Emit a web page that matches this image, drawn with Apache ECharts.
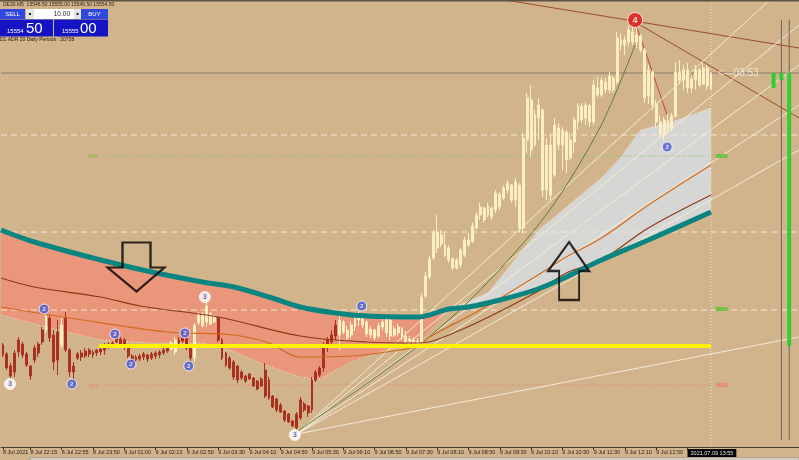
<!DOCTYPE html>
<html>
<head>
<meta charset="utf-8">
<title>DE30.M5</title>
<script src="https://cdn.jsdelivr.net/npm/echarts@6/dist/echarts.min.js"></script>
<style>
  html, body { margin: 0; padding: 0; background: #D2B48C; }
  #chart { width: 799px; height: 460px; }
</style>
</head>
<body>
<div id="chart"></div>
<script>
// M5 bars: [open, close, low, high]
const candles = [
  [15418.5, 15413.5, 15412.5, 15419.5], [15414, 15407, 15406, 15415], [15408, 15403, 15401, 15409.5],
  [15405, 15414.5, 15402.5, 15416], [15415, 15421, 15412.5, 15422.5], [15419, 15413.5, 15412, 15420],
  [15414, 15408.5, 15407.5, 15415], [15408, 15403, 15401, 15408.5], [15411, 15417, 15409.5, 15418.5],
  [15414.5, 15419, 15412.5, 15420], [15420, 15426, 15418.5, 15427.5], [15426, 15433, 15424.5, 15435],
  [15432, 15422, 15420, 15433.5], [15423.5, 15410, 15406, 15426], [15425, 15411, 15403.5, 15431],
  [15418.5, 15428.5, 15417, 15432], [15432, 15416, 15415, 15435], [15416, 15405, 15402.5, 15417],
  [15408, 15405, 15401, 15410], [15412, 15414, 15411, 15415], [15412.5, 15414.5, 15410.5, 15416],
  [15413, 15415.5, 15412, 15417], [15414, 15416, 15412.5, 15417], [15413.5, 15415, 15412, 15416],
  [15414.5, 15416, 15413, 15416.5], [15415, 15416.5, 15413.5, 15417.5], [15416, 15418, 15413.5, 15419.5],
  [15417.5, 15419, 15416.5, 15420], [15418, 15419.5, 15417, 15420.5], [15420, 15422, 15419.5, 15423.5],
  [15421.5, 15418.5, 15417.5, 15422.5], [15421, 15417.5, 15416, 15422], [15417.5, 15413, 15412, 15418.5],
  [15413, 15411, 15410, 15414], [15411, 15412.5, 15410, 15413.5], [15411.5, 15413, 15410.5, 15414],
  [15412.5, 15414, 15411, 15415], [15413.5, 15411.5, 15410, 15414], [15412, 15414, 15411, 15415],
  [15413, 15414.5, 15411.5, 15415.5], [15413.5, 15415, 15412, 15416], [15414.5, 15416, 15413.5, 15417.5],
  [15415.5, 15417, 15414.5, 15418.5], [15416.5, 15419.5, 15416, 15420.5], [15415, 15421, 15413.5, 15422.5],
  [15419.5, 15421, 15418.5, 15422.5], [15420.5, 15422, 15419.5, 15423], [15422, 15417, 15416, 15423],
  [15417.5, 15412, 15410, 15418.5], [15412, 15428.5, 15410, 15429.5], [15429.5, 15434, 15428.5, 15435],
  [15428, 15434, 15427, 15435], [15430, 15438, 15427.5, 15441], [15429, 15434, 15428.5, 15435],
  [15430, 15433, 15429.5, 15433.5], [15432, 15421, 15420, 15433], [15421, 15412, 15411, 15422],
  [15414.5, 15408.5, 15407.5, 15415], [15412, 15407, 15406, 15413], [15410, 15402.5, 15401, 15411],
  [15408, 15401, 15399.5, 15408.5], [15402, 15405, 15401, 15406], [15403, 15400.5, 15399.5, 15403.5],
  [15401.5, 15404, 15401, 15404.5], [15402, 15398, 15397.5, 15402.5], [15400.5, 15396.5, 15396, 15401],
  [15398, 15401.5, 15397.5, 15402.5], [15406, 15393, 15392, 15409.5], [15401, 15392, 15391, 15402.5],
  [15393, 15387.5, 15387, 15393.5], [15391.5, 15386, 15385, 15392], [15388.5, 15385, 15384.5, 15389.5],
  [15385.5, 15381, 15380, 15386], [15384, 15380, 15379.5, 15384.5], [15380.5, 15378, 15377.5, 15381],
  [15384, 15377, 15375.5, 15385], [15382, 15391, 15381, 15392.5], [15389, 15386, 15385, 15390],
  [15384.5, 15388, 15382.5, 15388.5], [15386, 15401, 15384.5, 15402.5], [15401, 15405, 15400, 15406],
  [15403.5, 15407, 15402.5, 15408], [15407, 15418.5, 15405, 15420], [15417, 15421, 15415, 15422.5],
  [15420, 15423.5, 15418.5, 15426], [15423, 15428.5, 15421, 15431], [15423.5, 15431, 15416, 15436],
  [15430, 15425, 15424, 15431], [15422, 15426, 15420.5, 15428], [15423.5, 15428.5, 15422, 15430.5],
  [15427.5, 15432, 15425.5, 15433], [15431, 15434, 15428, 15435.5], [15433, 15428.5, 15427, 15433.5],
  [15430, 15424, 15422.5, 15431], [15423.5, 15426.5, 15422, 15428], [15426, 15422, 15421, 15426.5],
  [15423, 15428, 15422, 15429.5], [15427.5, 15430, 15426, 15432], [15424.5, 15432, 15422.5, 15434],
  [15431, 15423, 15421, 15432], [15423.5, 15426.5, 15422.5, 15428], [15424.5, 15427.5, 15423, 15429],
  [15427, 15422, 15421, 15427.5], [15423, 15420, 15419, 15425.5], [15420.5, 15421.5, 15419, 15423],
  [15421, 15419, 15418, 15422.5], [15419, 15420.5, 15417.5, 15422], [15418.5, 15442.5, 15417, 15444.5],
  [15443, 15453, 15442, 15455], [15452.5, 15461.5, 15451.5, 15463], [15462, 15474.5, 15461, 15476],
  [15467, 15475, 15464.5, 15483.5], [15473.5, 15469, 15467.5, 15476], [15468.5, 15463.5, 15462.5, 15475],
  [15467, 15461, 15459.5, 15468.5], [15461.5, 15457, 15456, 15462.5], [15457, 15461, 15456, 15462],
  [15458.5, 15466, 15457, 15467], [15463.5, 15471, 15462.5, 15472.5], [15471, 15468.5, 15467.5, 15474.5],
  [15470, 15478, 15469.5, 15480], [15477, 15483.5, 15476, 15485], [15483.5, 15487.5, 15481, 15489.5],
  [15487, 15481, 15479.5, 15487.5], [15483.5, 15488, 15482.5, 15489.5], [15487, 15482.5, 15481, 15487.5],
  [15486, 15494.5, 15484.5, 15496], [15494, 15487.5, 15486, 15495], [15492, 15497, 15491, 15498.5],
  [15496, 15499.5, 15494.5, 15501], [15498.5, 15491, 15489.5, 15499], [15491, 15500, 15487.5, 15502],
  [15498.5, 15477, 15474.5, 15499.5], [15477, 15522, 15474.5, 15524.5], [15521, 15542, 15514.5, 15544.5],
  [15541, 15516, 15512.5, 15548.5], [15518.5, 15533.5, 15517.5, 15536], [15532, 15538.5, 15521, 15542],
  [15536, 15496, 15492.5, 15537], [15496, 15518.5, 15491, 15522], [15518.5, 15493.5, 15491, 15524.5],
  [15503.5, 15528.5, 15502.5, 15532], [15527, 15518.5, 15516, 15529.5], [15518.5, 15526, 15506, 15527.5],
  [15525, 15511, 15504.5, 15526], [15512, 15521, 15511, 15524.5], [15520, 15531, 15514.5, 15532.5],
  [15530, 15538, 15526, 15539.5], [15538, 15531, 15529.5, 15539.5], [15532, 15538.5, 15528.5, 15540],
  [15538, 15530, 15527.5, 15539], [15530, 15548.5, 15528.5, 15551], [15547, 15543.5, 15542.5, 15552.5],
  [15543.5, 15551, 15542.5, 15552.5], [15550, 15546, 15544.5, 15552], [15546, 15553, 15544.5, 15555],
  [15552, 15546, 15544.5, 15553], [15550, 15572, 15549, 15575], [15571, 15568.5, 15566, 15574.5],
  [15568.5, 15571, 15563.5, 15573], [15570, 15576, 15567.5, 15578], [15575, 15570, 15568.5, 15580],
  [15570, 15573.5, 15567, 15577], [15573, 15566, 15565, 15574], [15566, 15542, 15539.5, 15567],
  [15543, 15556, 15539, 15558.5], [15555, 15538.5, 15536, 15556], [15539, 15530, 15527.5, 15541],
  [15530, 15524, 15522, 15533], [15524, 15531, 15520.5, 15532.5], [15531, 15526, 15524, 15534],
  [15526, 15533, 15525.5, 15534.5], [15533, 15555, 15532, 15560], [15555, 15551, 15549, 15561],
  [15551, 15556, 15546, 15558.5], [15556, 15547, 15544.5, 15559.5], [15547, 15551.5, 15544.5, 15553],
  [15551, 15556, 15546, 15558.5], [15556, 15548.5, 15547.5, 15557], [15549, 15557, 15548.5, 15559.5],
  [15557, 15548, 15546, 15558.5], [15546.5, 15554.5, 15546.5, 15555]
];
const creamFrom = 86;
const creamBars = [11, 15, 43, 44, 49, 50, 51, 52, 53, 54];
const barSlots = 204;

const tickBar = [0, 7, 15, 23, 31, 39, 47, 55, 63, 71, 79, 87, 95, 103, 111, 119, 127, 135, 143, 151, 159, 167, 175];
const tickText = ['8 Jul 2021', '8 Jul 22:15', '8 Jul 22:55', '8 Jul 23:50', '9 Jul 01:00', '9 Jul 02:10',
  '9 Jul 02:50', '9 Jul 03:30', '9 Jul 04:10', '9 Jul 04:50', '9 Jul 05:30', '9 Jul 06:10', '9 Jul 06:50',
  '9 Jul 07:30', '9 Jul 08:10', '9 Jul 08:50', '9 Jul 09:30', '9 Jul 10:10', '9 Jul 10:50', '9 Jul 11:30',
  '9 Jul 12:10', '9 Jul 12:50', '2021.07.09 13:55'];

// indicator lines, [bar, price]
const tealMA = [[-0.5, 15476], [8, 15470], [25, 15461], [38, 15455], [51, 15450], [59, 15447.5], [68, 15442.5],
  [76, 15437.5], [85, 15434.5], [93, 15433], [106, 15432.5], [114, 15436.5], [119, 15437.5], [127, 15441],
  [136, 15446], [144, 15452.5], [153, 15461], [165, 15471], [181, 15485]];
const brownMA = [[-0.5, 15452], [8, 15447.5], [25, 15442.5], [35, 15438], [55, 15432.5], [76, 15423], [93, 15420],
  [106, 15419.5], [117, 15426], [136, 15444.5], [144, 15454.5], [153, 15461], [165, 15477], [181, 15493.5]];
const orangeMA = [[-0.5, 15437.5], [17, 15432], [42, 15425], [59, 15423.5], [68, 15419.5], [76, 15412.5],
  [89, 15413], [98, 15415], [106, 15418], [109, 15422.5], [122, 15436], [136, 15452.5], [144, 15462.5],
  [153, 15472], [165, 15488.5], [181, 15508.5]];
const bandLow = [[-0.5, 15433.5], [12, 15427], [25, 15421], [38, 15419.5], [51, 15419.5], [58, 15416], [67, 15408.5],
  [76, 15402.5], [81, 15401.5], [89, 15410], [98, 15416], [106, 15419]];
const bandHigh = [[116, 15438], [124, 15444.5], [137, 15476], [153, 15502], [158, 15512.5], [163, 15526],
  [171, 15530], [181, 15537]];

const dashedLevels = [15523.5, 15475, 15436];
const bidPrice = 15554.5;
const yellowLevel = [[24.5, 15418], [181, 15418]];
const fib50 = [[26.3, 15513], [181, 15513]];
const fib70 = [[24.3, 15398.5], [181, 15398.5]];

const trendLines = [
  { pts: [[128.4, 15591], [203.5, 15567]], color: '#9A4A2E' },
  { pts: [[161.6, 15580], [203.5, 15532]], color: '#9A4A2E' },
  { pts: [[161.6, 15580], [169.8, 15533.5]], color: '#D0403A' },
  { pts: [[75.1, 15374], [203.5, 15422.5]], color: '#F3EBD8' },
  { pts: [[75.1, 15374], [196, 15591]], color: '#F3EBD8' },
  { pts: [[75.1, 15374], [203.5, 15578.5]], color: '#F3EBD8' },
  { pts: [[75.1, 15374], [203.5, 15558.5]], color: '#F3EBD8' },
  { pts: [[75.1, 15374], [203.5, 15538.5]], color: '#F3EBD8' },
  { pts: [[75.1, 15374], [203.5, 15516]], color: '#F3EBD8' }
];
const olivePath = [[75.1, 15375], [105.4, 15417], [122, 15446], [139.2, 15484.5], [152.7, 15527.5], [161.6, 15568.5]];

// wave labels
const wave2 = [[10.5, 15436.5], [17.6, 15399], [28.6, 15424], [32.7, 15409], [46.5, 15424.5], [47.5, 15408],
  [91.7, 15438], [169.8, 15517.5]];
const wave3 = [[1.8, 15399], [51.6, 15442.5], [74.6, 15373.5]];
const wave4 = [[161.6, 15581]];

// right edge histogram: [bar, from, to]
const sideBars = [[197, 15554.5, 15547], [199, 15554.5, 15551], [201, 15554.5, 15418]];
const sideWicks = [199, 201];

const chart = echarts.init(document.getElementById('chart'), null, { renderer: 'canvas' });

const upColor = '#FBEFC2';
const downColor = '#A8321F';
const candleData = candles.map((c, i) => {
  const col = (i >= creamFrom || creamBars.indexOf(i) >= 0) ? upColor : downColor;
  return { value: c, itemStyle: { color: col, color0: col, borderColor: col, borderColor0: col } };
});
const categories = [];
for (let i = 0; i < barSlots; i++) categories.push(String(i));

function line(points, color, width, type, z, smooth) {
  return {
    type: 'line', xAxisIndex: 1, data: points, symbol: 'none', silent: true,
    smooth: smooth || false, lineStyle: { color: color, width: width, type: type || 'solid' }, z: z
  };
}

// filled region between two boundaries
function band(top, bottom, fill) {
  return {
    type: 'custom', xAxisIndex: 1, silent: true, z: 1,
    data: [[0, 15400]],
    renderItem: function (params, api) {
      const pts = top.map(p => api.coord(p)).concat(bottom.slice().reverse().map(p => api.coord(p)));
      return { type: 'polygon', shape: { points: pts }, style: { fill: fill } };
    }
  };
}

function wave(points, text, fill, textColor, size) {
  return {
    type: 'scatter', xAxisIndex: 1, data: points, symbolSize: size, silent: true, z: 8,
    itemStyle: { color: fill, borderColor: '#ffffff', borderWidth: 1 },
    label: { show: true, position: 'inside', formatter: text, fontSize: size * 0.62, fontWeight: 'bold', color: textColor }
  };
}

const series = [
  band(tealMA.filter(p => p[0] <= 114), bandLow, '#E9967A'),
  band(bandHigh, tealMA.filter(p => p[0] >= 114), '#D6D6D4')
];

dashedLevels.forEach(v => series.push(line([[-0.5, v], [203.5, v]], 'rgba(246,236,218,0.9)', 1, [6, 4], 2)));
series.push(line([[181, 15591], [181, 15367.5]], 'rgba(246,236,218,0.8)', 1, [1, 2], 2));
series.push(line(fib50, '#7CC84A', 1, [1, 2], 2));
series.push(line(fib70, '#E0826A', 1, [1, 2], 2));
series.push(line([[-0.5, bidPrice], [203.5, bidPrice]], '#857A6A', 1.2, 'solid', 2));
series.push(line(bandLow, 'rgba(246,236,218,0.9)', 1, [1, 2], 3));
series.push(line(bandHigh, 'rgba(246,236,218,0.9)', 1, [1, 2], 3));

trendLines.forEach(t => series.push(line(t.pts, t.color, 1, 'solid', 3)));
series.push(line(olivePath, '#5E7A3A', 1, 'solid', 3, 0.3));

series.push({
  type: 'candlestick', data: candleData, barWidth: 2.4, silent: true, z: 4
});

series.push(line(brownMA, '#8B3A14', 1.2, 'solid', 5, 0.35));
series.push(line(orangeMA, '#D2691E', 1.2, 'solid', 5, 0.35));
series.push(line(tealMA, '#0B8580', 5, 'solid', 5, 0.35));
series.push(line(yellowLevel, '#FFF200', 4, 'solid', 6));

sideWicks.forEach(b => series.push(line([[b, 15581], [b, 15371]], '#6A6458', 1, 'solid', 3)));
series.push({
  type: 'custom', xAxisIndex: 1, silent: true, z: 4,
  data: sideBars,
  encode: { x: 0, y: [1, 2] },
  renderItem: function (params, api) {
    const a = api.coord([api.value(0), api.value(1)]);
    const b = api.coord([api.value(0), api.value(2)]);
    return { type: 'rect', shape: { x: a[0] - 2, y: Math.min(a[1], b[1]), width: 4, height: Math.abs(b[1] - a[1]) }, style: { fill: '#33CC33' } };
  }
});

// fib price tags on the right
series.push({
  type: 'scatter', xAxisIndex: 1, symbol: 'rect', symbolSize: [12, 4], silent: true, z: 6,
  data: [
    { value: [183.7, 15513], itemStyle: { color: '#5BC236' } },
    { value: [183.7, 15436.5], itemStyle: { color: '#5BC236' } },
    { value: [183.7, 15398.5], itemStyle: { color: '#E58A6A' } }
  ]
});

series.push(wave(wave2, '2', '#4A5BD8', '#ffffff', 10));
series.push(wave(wave3, '3', '#ffffff', '#3A4AB0', 11));
series.push(wave(wave4, '4', '#E01010', '#ffffff', 15));

// hand drawn arrows
series.push({
  type: 'scatter', xAxisIndex: 1, silent: true, z: 9,
  itemStyle: { color: 'rgba(0,0,0,0)', borderColor: '#000000', borderWidth: 2.2 },
  data: [
    { value: [34, 15457.5], symbol: 'path://M15,0 L43,0 L43,25 L57,25 L29,49 L0,25 L15,25 Z', symbolSize: [57, 49] },
    { value: [144.6, 15455.5], symbol: 'path://M21,0 L41,29 L31,29 L31,58 L11,58 L11,29 L0,29 Z', symbolSize: [41, 58] }
  ]
});

// countdown tag on the bid line
series.push({
  type: 'scatter', xAxisIndex: 1, silent: true, z: 9, symbolSize: 1,
  itemStyle: { color: 'rgba(0,0,0,0)' },
  data: [[182.6, bidPrice]],
  label: { show: true, position: 'right', distance: 0, formatter: '<—03:53', color: '#F6F2EA', fontSize: 10, fontFamily: 'Liberation Sans' }
});

const isTick = (index) => tickBar.indexOf(index) >= 0;

const option = {
  animation: false,
  backgroundColor: '#D2B48C',
  grid: { left: 0, right: 0, top: 0, bottom: 13, containLabel: false },
  xAxis: [
    {
      type: 'category', data: categories, boundaryGap: true,
      axisLine: { lineStyle: { color: '#4A4236', width: 1 } },
      axisTick: { show: true, alignWithLabel: true, interval: isTick, length: 3, lineStyle: { color: '#3A3228' } },
      axisLabel: {
        interval: isTick, align: 'left', margin: 2, fontSize: 5.5, color: '#2B2218',
        fontFamily: 'Liberation Sans',
        formatter: function (val, index) {
          const k = tickBar.indexOf(index);
          if (k < 0) return '';
          return k === tickBar.length - 1 ? '{hl|' + tickText[k] + '}' : tickText[k];
        },
        rich: { hl: { backgroundColor: '#000000', color: '#E8E8E8', fontSize: 5.5, padding: [1, 3], fontFamily: 'Liberation Sans' } }
      },
      splitLine: { show: false }
    },
    { type: 'value', min: -0.5, max: barSlots - 0.5, show: false }
  ],
  yAxis: { type: 'value', min: 15367.5, max: 15591, show: false, scale: true },
  graphic: [
    { type: 'rect', shape: { x: 0, y: 0, width: 799, height: 1.5 }, style: { fill: '#5C5244' }, z: 20 },
    { type: 'text', x: 3, y: 2, style: { text: 'DE30.M5  15546.50 15555.00 15546.50 15554.50', fontSize: 5, fill: '#2A2218', fontFamily: 'Liberation Sans' }, z: 20 },
    { type: 'rect', shape: { x: 0, y: 9, width: 25, height: 10 }, style: { fill: '#3047E0' }, z: 20 },
    { type: 'text', x: 12.5, y: 14, style: { text: 'SELL', fontSize: 6, fill: '#ffffff', align: 'center', verticalAlign: 'middle', fontFamily: 'Liberation Sans' }, z: 21 },
    { type: 'rect', shape: { x: 26, y: 9, width: 8, height: 10 }, style: { fill: '#E4E4E4' }, z: 20 },
    { type: 'rect', shape: { x: 29, y: 13, width: 2, height: 2 }, style: { fill: '#222' }, z: 21 },
    { type: 'rect', shape: { x: 34, y: 9, width: 40, height: 10 }, style: { fill: '#ffffff' }, z: 20 },
    { type: 'text', x: 70, y: 14, style: { text: '10.00', fontSize: 6.5, fill: '#222', align: 'right', verticalAlign: 'middle', fontFamily: 'Liberation Sans' }, z: 21 },
    { type: 'rect', shape: { x: 74, y: 9, width: 7, height: 10 }, style: { fill: '#E4E4E4' }, z: 20 },
    { type: 'rect', shape: { x: 76.5, y: 13, width: 2, height: 2 }, style: { fill: '#222' }, z: 21 },
    { type: 'rect', shape: { x: 81, y: 9, width: 27, height: 10 }, style: { fill: '#3047E0' }, z: 20 },
    { type: 'text', x: 94.5, y: 14, style: { text: 'BUY', fontSize: 6, fill: '#ffffff', align: 'center', verticalAlign: 'middle', fontFamily: 'Liberation Sans' }, z: 21 },
    { type: 'rect', shape: { x: 0, y: 19.5, width: 53, height: 17 }, style: { fill: '#1414C4' }, z: 20 },
    { type: 'rect', shape: { x: 54, y: 19.5, width: 54, height: 17 }, style: { fill: '#1414C4' }, z: 20 },
    { type: 'text', x: 7, y: 31, style: { text: '15554', fontSize: 6, fill: '#ffffff', verticalAlign: 'middle', fontFamily: 'Liberation Sans' }, z: 21 },
    { type: 'text', x: 26, y: 28.5, style: { text: '50', fontSize: 15, fill: '#ffffff', verticalAlign: 'middle', fontFamily: 'Liberation Sans' }, z: 21 },
    { type: 'text', x: 62, y: 31, style: { text: '15555', fontSize: 6, fill: '#ffffff', verticalAlign: 'middle', fontFamily: 'Liberation Sans' }, z: 21 },
    { type: 'text', x: 80, y: 28.5, style: { text: '00', fontSize: 15, fill: '#ffffff', verticalAlign: 'middle', fontFamily: 'Liberation Sans' }, z: 21 },
    { type: 'text', x: 0, y: 37.5, style: { text: 'D1 ADR 20 Daily Periods : 20758', fontSize: 5, fill: '#2A2218', fontFamily: 'Liberation Sans' }, z: 20 },
    { type: 'text', x: 88, y: 154, style: { text: '50%', fontSize: 5, fill: '#6CBF3A', fontFamily: 'Liberation Sans' }, z: 6 },
    { type: 'text', x: 88, y: 384, style: { text: '70%', fontSize: 5, fill: '#E0826A', fontFamily: 'Liberation Sans' }, z: 6 },
    { type: 'rect', shape: { x: 30, y: 458, width: 769, height: 2 }, style: { fill: '#ECE9E2', stroke: '#777', lineWidth: 0.5 }, z: 20 }
  ],
  series: series
};

chart.setOption(option);
</script>
</body>
</html>
